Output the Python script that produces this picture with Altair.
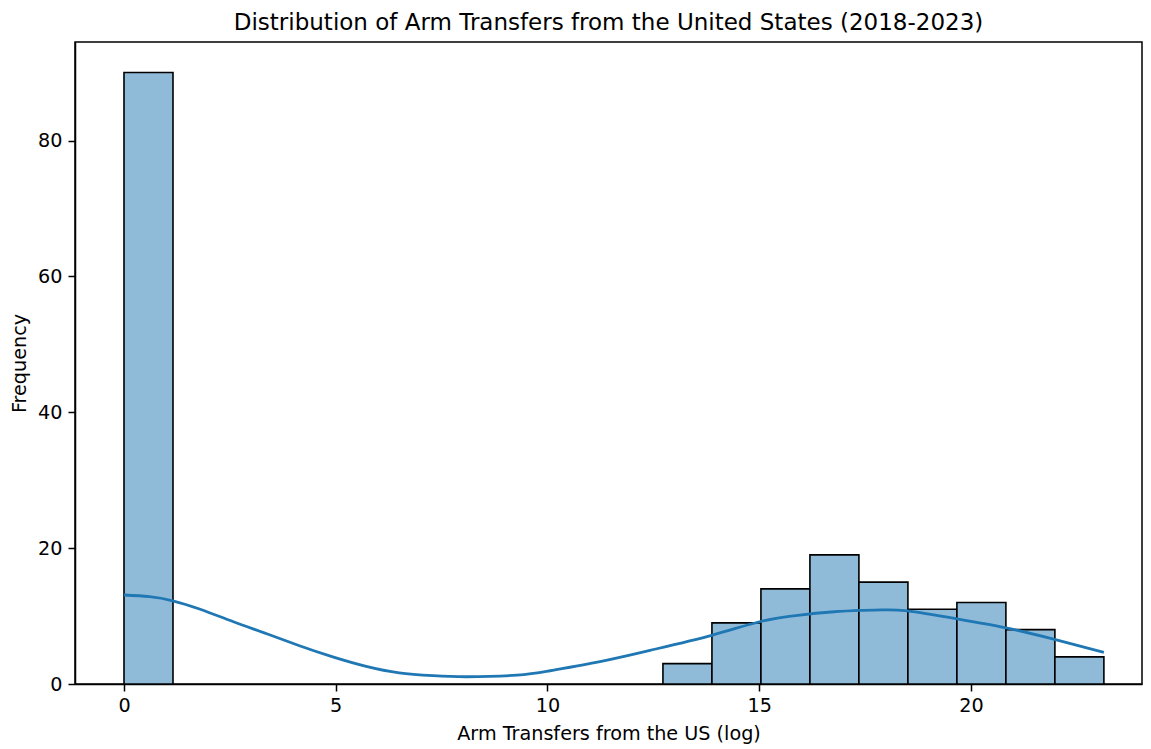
import altair as alt
import numpy as np
import pandas as pd

# Histogram of log-scaled transfer values: 20 equal bins over the data range
data_min = 0.0
data_max = 23.14
n_bins = 20
bin_counts = [90, 0, 0, 0, 0, 0, 0, 0, 0, 0, 0, 3, 9, 14, 19, 15, 11, 12, 8, 4]

# Kernel density estimate, expressed in count units
kde_x = [0.0, 0.6, 1.15, 1.8, 2.57, 3.37, 4.16, 4.93, 5.72, 6.5, 7.3, 8.1, 9.28,
         10.06, 11.24, 12.42, 13.9, 15.03, 15.96, 16.7, 17.38, 17.9, 18.5, 19.66,
         20.8, 21.86, 23.14]
kde_y = [13.1, 12.85, 12.25, 11.0, 9.2, 7.4, 5.6, 4.0, 2.6, 1.65, 1.23, 1.07, 1.3,
         1.95, 3.3, 4.95, 7.2, 9.2, 10.15, 10.6, 10.85, 10.9, 10.75, 9.6,
         8.3, 6.75, 4.67]

x_ticks = [0, 5, 10, 15, 20]
y_ticks = [0, 20, 40, 60, 80]

edges = np.linspace(data_min, data_max, n_bins + 1)
bars = pd.DataFrame({
    "start": edges[:-1],
    "end": edges[1:],
    "count": bin_counts,
})
bars = bars[bars["count"] > 0]
kde = pd.DataFrame({"x": kde_x, "y": kde_y})

width_unit = (data_max - data_min) / n_bins
x_scale = alt.Scale(domain=[-width_unit, 24.04], nice=False, zero=False)
y_scale = alt.Scale(domain=[0, 94.5], nice=False)

FONT = "DejaVu Sans"
LABEL_SIZE = 19.2
TITLE_SIZE = 23

common_axis = dict(
    grid=False, tickSize=7, tickWidth=1.5, tickColor="black",
    domainColor="black", domainWidth=1.5, labelColor="black",
    labelFontSize=LABEL_SIZE, titleFontSize=LABEL_SIZE, titleFontWeight="normal",
    titleColor="black", labelFont=FONT, titleFont=FONT,
)
x_axis = alt.Axis(
    values=x_ticks, title="Arm Transfers from the US (log)",
    labelPadding=5, titlePadding=9, **common_axis,
)
y_axis = alt.Axis(
    values=y_ticks, title="Frequency",
    labelPadding=6, titlePadding=8, **common_axis,
)

hist = alt.Chart(bars).mark_rect(
    fill="#8fbbd9", stroke="black", strokeWidth=1.6
).encode(
    x=alt.X("start:Q", scale=x_scale, axis=x_axis),
    x2="end:Q",
    y=alt.Y("count:Q", scale=y_scale, axis=y_axis),
    y2=alt.datum(0),
)

line = alt.Chart(kde).mark_line(
    color="#1f77b4", strokeWidth=2.8, interpolate="natural"
).encode(
    x=alt.X("x:Q", scale=x_scale),
    y=alt.Y("y:Q", scale=y_scale),
)

chart = alt.layer(hist, line).properties(
    width=1067,
    height=642,
    title=alt.Title(
        "Distribution of Arm Transfers from the United States (2018-2023)",
        font=FONT, fontSize=TITLE_SIZE, fontWeight="normal", color="black",
        anchor="middle", offset=7,
    ),
    padding={"left": 75, "top": 42, "right": 9, "bottom": 65},
    autosize=alt.AutoSizeParams(type="none"),
).configure_view(
    stroke="black", strokeWidth=1.5
)

chart.save("out.html", embed_options={"renderer": "svg", "actions": False})
